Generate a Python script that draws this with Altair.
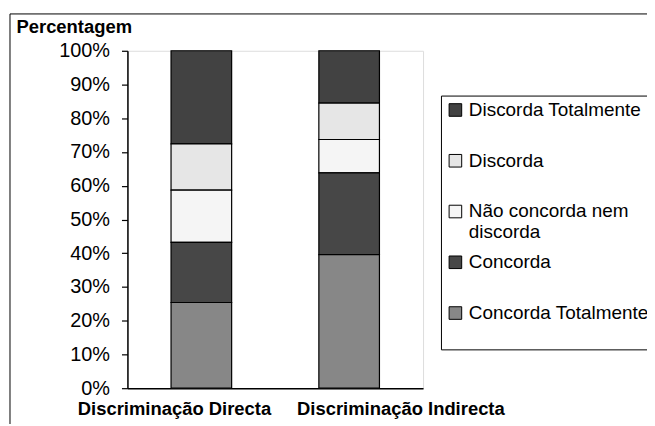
import altair as alt
import pandas as pd

grupos = ["Discriminação Directa", "Discriminação Indirecta"]
categorias = ["Discorda Totalmente", "Discorda", "Não concorda nem discorda",
              "Concorda", "Concorda Totalmente"]
cores = ["#424242", "#e6e6e6", "#f5f5f5", "#474747", "#878787"]
directa = [27.6, 13.7, 15.5, 17.8, 25.4]
indirecta = [15.5, 10.8, 9.9, 24.2, 39.6]
y_ticks = [0, 0.1, 0.2, 0.3, 0.4, 0.5, 0.6, 0.7, 0.8, 0.9, 1.0]

rows = []
for g, vals in zip(grupos, [directa, indirecta]):
    for i, (c, v) in enumerate(zip(categorias, vals)):
        rows.append({"grupo": g, "resposta": c, "valor": v, "ordem": len(categorias) - 1 - i})
df = pd.DataFrame(rows)

FONT = "Liberation Sans"

bars = alt.Chart(df).mark_bar(stroke="black", strokeWidth=1.2).encode(
    x=alt.X("grupo:N", sort=grupos,
            scale=alt.Scale(paddingInner=0.59, paddingOuter=0.295),
            axis=alt.Axis(title=None, labelAngle=0, labelFont=FONT, labelFontWeight="bold",
                          labelFontSize=18.5, labelColor="black", ticks=False,
                          labelLimit=400, labelOverlap=False,
                          labelOffset=alt.condition("datum.value == 'Discriminação Directa'",
                                                    alt.value(-27), alt.value(52)),
                          domainColor="black", domainWidth=1.5, labelPadding=11)),
    y=alt.Y("valor:Q", stack="normalize", scale=alt.Scale(domain=[0, 1]),
            axis=alt.Axis(values=y_ticks, format=".0%", title="Percentagem", titleAngle=0,
                          titleAlign="left", titleBaseline="alphabetic", titleX=-112, titleY=-18,
                          titleFont=FONT, titleFontSize=18.5, titleFontWeight="bold",
                          titleColor="black", labelFont=FONT, labelFontSize=20,
                          labelColor="black", tickSize=6, tickColor="black", tickWidth=1.2,
                          labelPadding=12, grid=False, domainColor="black", domainWidth=1.5)),
    color=alt.Color("resposta:N", sort=categorias,
                    scale=alt.Scale(domain=categorias, range=cores),
                    legend=alt.Legend(title=None, orient="none", legendX=315, legendY=45,
                                      strokeColor="black", fillColor="white", padding=5,
                                      symbolType="square", symbolSize=160,
                                      symbolStrokeColor="black", symbolStrokeWidth=1,
                                      symbolOpacity=1, labelFont=FONT, labelFontSize=19,
                                      labelColor="black", labelLimit=300,
                                      rowPadding=10, labelOffset=4,
                                      labelExpr="datum.label == 'Não concorda nem discorda' ? ['Não concorda nem', 'discorda'] : [datum.label, '']")),
    order=alt.Order("ordem:Q", sort="ascending"),
)

frame = alt.Chart(pd.DataFrame({"k": [0]})).mark_rect(
    filled=False, stroke="black", strokeWidth=1
).encode(x=alt.value(-118), x2=alt.value(540), y=alt.value(-37), y2=alt.value(420))

chart = alt.layer(bars, frame).properties(
    width=297, height=339,
    padding={"left": 120, "top": 42, "right": 225, "bottom": 35},
    autosize=alt.AutoSizeParams(type="none"),
).configure_view(stroke="black", strokeWidth=1.5).configure(font=FONT)

chart.save("out.html", embed_options={"renderer": "svg", "actions": False})
